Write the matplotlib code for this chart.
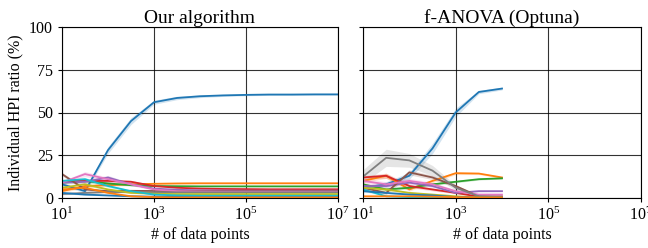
import numpy as np
import matplotlib
matplotlib.use("Agg")
import matplotlib.pyplot as plt
from matplotlib.ticker import NullLocator

plt.rcParams['font.family'] = ['Liberation Serif', 'DejaVu Serif']

# x positions (half-decade steps)
x_ours = [10**1, 10**1.5, 10**2, 10**2.5, 10**3, 10**3.5, 10**4, 10**4.5, 10**5, 10**5.5, 10**6, 10**6.5, 10**7]
x_fanova = [10**1, 10**1.5, 10**2, 10**2.5, 10**3, 10**3.5, 10**4]

titles = ["Our algorithm", "f-ANOVA (Optuna)"]
ylabel = "Individual HPI ratio (%)"
xlabel = "# of data points"
colors = ["C0", "C1", "C2", "C3", "C4", "C5", "C6", "C7", "C8", "C9", "C0", "C1"]

# "Our algorithm" means (%) and std
ours_mean = [
    [8, 4, 28, 45, 56, 58.5, 59.5, 60, 60.3, 60.5, 60.5, 60.6, 60.6],
    [4, 7, 7.5, 8, 8.3, 8.5, 8.6, 8.6, 8.6, 8.6, 8.6, 8.6, 8.6],
    [9, 10, 8.5, 7.5, 7, 6.9, 6.8, 6.8, 6.8, 6.8, 6.8, 6.8, 6.8],
    [10, 10, 10, 9.5, 7, 6, 5.5, 5.3, 5.2, 5.1, 5.1, 5.1, 5.1],
    [9, 9.5, 12, 8, 5.5, 4.8, 4.5, 4.4, 4.3, 4.3, 4.3, 4.3, 4.3],
    [14, 5, 4, 4.2, 4.1, 4, 4, 4, 4, 4, 4, 4, 4],
    [9, 14, 11, 8, 5, 4, 3.8, 3.7, 3.7, 3.7, 3.7, 3.7, 3.7],
    [2.3, 3, 3.5, 3.4, 3.3, 3.3, 3.3, 3.3, 3.3, 3.3, 3.3, 3.3, 3.3],
    [6, 8, 5, 3, 2.5, 2.3, 2.3, 2.3, 2.3, 2.3, 2.3, 2.3, 2.3],
    [10, 11, 7, 4, 2, 1.5, 1.3, 1.3, 1.3, 1.3, 1.3, 1.3, 1.3],
    [3, 2, 1.5, 1, 0.8, 0.6, 0.5, 0.5, 0.5, 0.5, 0.5, 0.5, 0.5],
    [5, 6, 3, 1, 0.5, 0.3, 0.3, 0.3, 0.3, 0.3, 0.3, 0.3, 0.3],
]
ours_std = [
    [1, 1, 2, 2, 1.2, 1, 0.8, 0.6, 0.5, 0.5, 0.5, 0.5, 0.5],
    [0.8, 1, 0.8, 0.5, 0.3, 0.2, 0.2, 0.2, 0.2, 0.2, 0.2, 0.2, 0.2],
    [0.8, 1, 0.8, 0.5, 0.3, 0.2, 0.2, 0.2, 0.2, 0.2, 0.2, 0.2, 0.2],
    [0.8, 1, 1, 0.8, 0.4, 0.3, 0.2, 0.2, 0.2, 0.2, 0.2, 0.2, 0.2],
    [0.8, 1, 1.2, 0.8, 0.4, 0.3, 0.2, 0.2, 0.2, 0.2, 0.2, 0.2, 0.2],
    [1, 0.8, 0.5, 0.4, 0.3, 0.2, 0.2, 0.2, 0.2, 0.2, 0.2, 0.2, 0.2],
    [0.8, 1.5, 1.2, 0.8, 0.4, 0.3, 0.2, 0.2, 0.2, 0.2, 0.2, 0.2, 0.2],
    [0.5, 0.5, 0.4, 0.3, 0.2, 0.2, 0.2, 0.2, 0.2, 0.2, 0.2, 0.2, 0.2],
    [0.8, 1, 0.6, 0.4, 0.3, 0.2, 0.2, 0.2, 0.2, 0.2, 0.2, 0.2, 0.2],
    [0.8, 1, 0.8, 0.5, 0.3, 0.2, 0.2, 0.2, 0.2, 0.2, 0.2, 0.2, 0.2],
    [0.5, 0.4, 0.3, 0.2, 0.2, 0.1, 0.1, 0.1, 0.1, 0.1, 0.1, 0.1, 0.1],
    [0.6, 0.6, 0.4, 0.2, 0.1, 0.1, 0.1, 0.1, 0.1, 0.1, 0.1, 0.1, 0.1],
]

# "f-ANOVA (Optuna)" means (%) and std
fanova_mean = [
    [6, 8, 13, 29, 50, 62, 64],
    [10, 13, 5, 10, 14.5, 14.3, 12],
    [8, 5, 6, 8, 9.5, 11, 11.5],
    [12, 13, 7, 5, 3, 0.8, 0.5],
    [7, 7, 9, 7, 3, 4, 4],
    [6, 3, 15, 12, 7, 1, 1],
    [10, 8, 10, 8, 4, 2, 2],
    [12.5, 23.5, 22, 16, 6, 1, 0.5],
    [6, 5, 3, 2, 1, 0.3, 0.2],
    [5, 1, 0.5, 0.3, 0.2, 0.1, 0.1],
    [4, 3, 2, 1.5, 0.5, 0.2, 0.2],
    [1, 1, 1, 0.8, 0.5, 0.3, 0.3],
]
fanova_std = [
    [1, 1.5, 2, 3, 2.5, 1, 0.8],
    [1, 1.5, 1, 1, 0.8, 0.6, 0.5],
    [0.8, 0.8, 0.8, 0.8, 0.6, 0.5, 0.4],
    [1, 1.5, 1, 0.8, 0.5, 0.3, 0.2],
    [1, 1, 1, 0.8, 0.5, 0.4, 0.3],
    [1, 1, 1.5, 1.2, 0.8, 0.3, 0.3],
    [1.5, 1.5, 1.5, 1.2, 0.8, 0.4, 0.3],
    [4, 5, 4, 3, 1.5, 0.5, 0.3],
    [0.8, 0.8, 0.6, 0.4, 0.3, 0.1, 0.1],
    [0.8, 0.4, 0.2, 0.1, 0.1, 0.1, 0.1],
    [0.6, 0.5, 0.4, 0.3, 0.2, 0.1, 0.1],
    [0.3, 0.3, 0.3, 0.2, 0.2, 0.1, 0.1],
]

yticks = [0, 25, 50, 75, 100]
xticks = [1e1, 1e3, 1e5, 1e7]

fig = plt.figure(figsize=(6.48, 2.48), dpi=100)
ax1 = fig.add_axes([62/648, 1-198/248, 276/648, 171/248])
ax2 = fig.add_axes([363/648, 1-198/248, 278/648, 171/248], sharey=ax1)

for ax, xs, means, stds, title in [
    (ax1, x_ours, ours_mean, ours_std, titles[0]),
    (ax2, x_fanova, fanova_mean, fanova_std, titles[1]),
]:
    for m, s, c in zip(means, stds, colors):
        m = np.array(m, dtype=float)
        s = np.array(s, dtype=float)
        ax.fill_between(xs, m - s, m + s, color=c, alpha=0.2, linewidth=0)
        ax.plot(xs, m, color=c, linewidth=1.3)
    ax.set_xscale('log')
    ax.set_xlim(1e1, 1e7)
    ax.set_ylim(0, 100)
    ax.set_xticks(xticks)
    ax.xaxis.set_minor_locator(NullLocator())
    ax.set_yticks(yticks)
    ax.grid(True, color='black', linewidth=0.8, alpha=0.8)
    ax.set_title(title, fontsize=14, pad=3)
    ax.set_xlabel(xlabel, fontsize=11.5, labelpad=2)
    ax.tick_params(labelsize=11.5, length=3)

ax1.set_ylabel(ylabel, fontsize=11.5)
plt.setp(ax2.get_yticklabels(), visible=False)

fig.savefig("out.png", dpi=100)
